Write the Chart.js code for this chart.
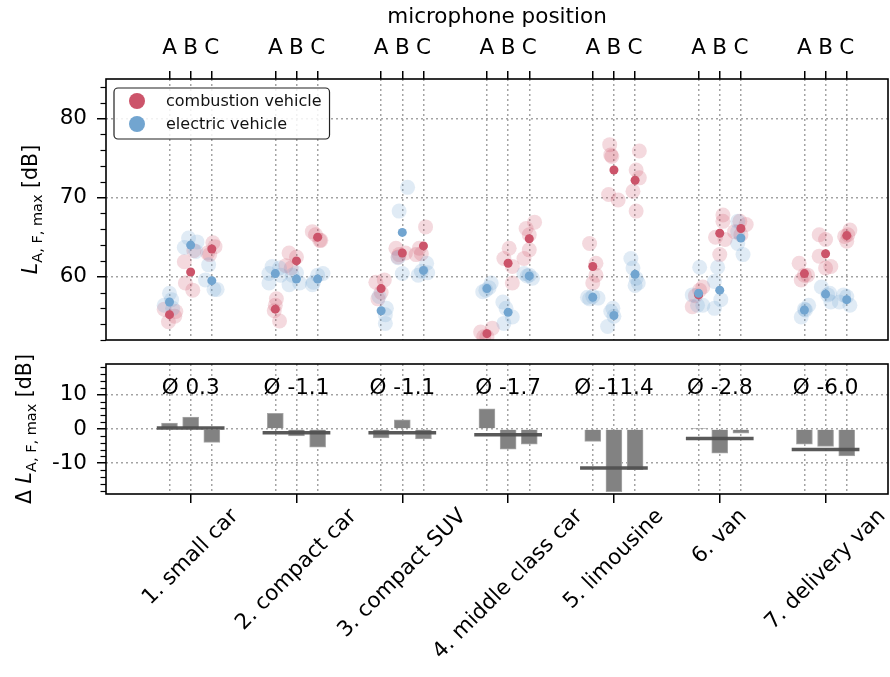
<!DOCTYPE html>
<html>
<head>
<meta charset="utf-8">
<script src="https://cdn.jsdelivr.net/npm/chart.js@4.4.0/dist/chart.umd.min.js"></script>
<style>
  body { margin: 0; background: #fff; }
  #wrap { position: relative; width: 890px; height: 677px; background: #fff; }
  #wrap canvas { position: absolute; left: 0; }
</style>
</head>
<body>
<div id="wrap">
  <canvas id="levels" width="890" height="345" style="top:0"></canvas>
  <canvas id="diffs" width="890" height="332" style="top:345px"></canvas>
</div>
<script>
const vehicles = ['1. small car', '2. compact car', '3. compact SUV', '4. middle class car',
  '5. limousine', '6. van', '7. delivery van'];
const micPositions = ['A', 'B', 'C'];
const vehicleTypes = ['combustion vehicle', 'electric vehicle'];
const levelTicks = [60, 70, 80];
const diffTicks = [-10, 0, 10];

// mean L_A,F,max per vehicle, mic A/B/C
const combustionMean = [[55.2, 60.6, 63.5], [55.9, 62.0, 65.0], [58.5, 63.0, 63.9], [52.8, 61.7, 64.8],
  [61.3, 73.5, 72.2], [57.7, 65.5, 66.1], [60.4, 62.9, 65.2]];
const electricMean = [[56.8, 64.0, 59.5], [60.4, 59.7, 59.7], [55.7, 65.6, 60.8], [58.5, 55.5, 60.1],
  [57.4, 55.1, 60.3], [57.9, 58.3, 64.9], [55.8, 57.8, 57.1]];

// single pass-bys
const combustionRuns = [
  [[55.6, 54.3, 55.0, 55.9], [61.9, 59.2, 58.3, 63.3], [64.3, 63.0, 63.8, 62.8]],
  [[57.2, 56.4, 54.4, 55.7], [63.0, 61.1, 62.5, 61.4], [65.7, 64.6, 65.3, 64.6]],
  [[59.3, 59.6, 58.0, 57.2], [63.6, 62.8, 63.0, 62.5], [66.3, 63.6, 62.8, 62.9]],
  [[53.0, 53.5, 52.4, 52.4], [63.6, 62.3, 61.3, 59.2], [66.9, 66.1, 63.4, 62.3, 65.3]],
  [[64.2, 61.7, 60.2, 59.2], [76.7, 75.4, 75.2, 70.4, 69.7], [75.9, 73.5, 72.5, 70.8, 68.3]],
  [[58.7, 56.2, 58.3, 57.6], [67.8, 65.0, 62.8, 64.7, 67.0], [66.6, 67.0, 65.7, 65.3]],
  [[61.7, 60.2, 59.6, 60.2], [65.3, 62.6, 61.3, 61.1, 64.7], [65.9, 64.5, 65.3, 65.1]]
];
const combustionJitter = [
  [[0.06, -0.01, 0.05, -0.05], [-0.06, -0.05, 0.02, 0.03], [0.01, -0.04, 0.03, -0.02]],
  [[0.01, 0.0, 0.04, -0.01], [-0.07, -0.05, 0.0, -0.1], [-0.05, 0.02, -0.02, 0.03]],
  [[-0.05, 0.03, 0.0, -0.03], [-0.06, -0.03, 0.03, -0.04], [0.02, -0.04, -0.07, -0.02]],
  [[-0.06, 0.05, 0.0, -0.03], [0.01, -0.04, 0.04, 0.04], [0.05, -0.03, 0.0, -0.05, 0.0]],
  [[-0.03, 0.03, 0.03, 0.0], [-0.04, -0.03, -0.02, -0.05, 0.04], [0.04, 0.01, 0.04, -0.02, 0.01]],
  [[0.04, -0.06, 0.01, -0.03], [0.03, -0.04, 0.0, 0.05, 0.03], [0.05, -0.01, -0.06, 0.0]],
  [[-0.05, 0.03, -0.03, 0.0], [-0.06, -0.06, 0.05, 0.0, 0.0], [0.03, 0.0, 0.01, -0.02]]
];
const electricRuns = [
  [[57.9, 56.4, 56.0, 57.1], [64.9, 64.4, 63.7, 63.2], [61.5, 59.6, 58.4, 58.4]],
  [[60.4, 60.2, 59.2, 61.1, 61.3], [60.2, 59.2, 59.0, 60.5], [60.4, 59.0, 60.2, 59.3]],
  [[57.5, 56.0, 55.2, 54.1], [71.3, 68.3, 62.4, 60.4], [61.7, 60.2, 60.5, 60.7]],
  [[58.1, 59.2, 58.3, 58.6], [56.8, 56.0, 54.1, 54.9], [60.4, 59.8, 60.2, 60.1]],
  [[57.4, 57.3, 57.5, 57.2], [53.7, 56.0, 55.6, 55.0], [62.3, 61.1, 59.2, 59.8, 58.9]],
  [[61.2, 57.7, 56.4, 56.4], [61.2, 59.4, 56.0, 57.1], [67.0, 64.2, 62.8, 65.7]],
  [[56.4, 54.9, 55.8, 55.9], [58.7, 57.9, 56.8, 57.7], [57.7, 56.4, 57.5, 56.8]]
];
const electricJitter = [
  [[0.0, -0.05, 0.03, 0.02], [-0.02, 0.06, -0.06, 0.05], [-0.03, -0.06, 0.02, 0.05]],
  [[-0.06, 0.05, -0.06, 0.04, -0.03], [-0.04, 0.03, -0.07, 0.0], [0.05, -0.05, 0.0, -0.04]],
  [[-0.02, 0.05, 0.04, 0.04], [0.05, -0.03, -0.04, 0.0], [0.03, -0.05, 0.04, -0.02]],
  [[-0.04, 0.04, -0.01, 0.02], [-0.05, -0.02, -0.04, 0.04], [-0.05, 0.03, 0.0, -0.02]],
  [[-0.05, 0.05, 0.0, -0.03], [-0.06, -0.01, -0.03, 0.0], [-0.04, -0.02, 0.03, 0.01, 0.0]],
  [[0.01, -0.06, -0.01, 0.04], [-0.02, -0.05, -0.05, 0.01], [-0.03, -0.03, 0.02, -0.03]],
  [[0.04, -0.03, 0.01, 0.0], [-0.04, 0.04, 0.05, 0.02], [-0.03, 0.03, 0.0, -0.07]]
];

// electric minus combustion, per mic, and average per vehicle
const levelDiff = [[1.7, 3.5, -3.9], [4.6, -2.0, -5.3], [-2.6, 2.7, -2.9], [5.9, -5.9, -4.4],
  [-3.6, -18.3, -11.9], [0.2, -7.1, -1.2], [-4.4, -5.1, -7.9]];
const meanDiff = [0.3, -1.1, -1.1, -1.7, -11.4, -2.8, -6.0];

const RED = 'rgb(204, 84, 106)';
const BLUE = 'rgb(114, 165, 208)';
const RED_FAINT = 'rgba(204, 84, 106, 0.22)';
const BLUE_FAINT = 'rgba(114, 165, 208, 0.22)';
const GRID = '#a3a3a3';
const FONT = 'DejaVu Sans';
const FS = 21.5;
const X_MIN = -0.8, X_MAX = 6.59, MIC_STEP = 0.2;

Chart.defaults.font.family = FONT;
Chart.defaults.color = '#000';

const micX = (i, j) => i + (j - 1) * MIC_STEP;
const micTicks = [];
vehicles.forEach((v, i) => micPositions.forEach((m, j) => micTicks.push({ value: micX(i, j) })));

function runPoints(runs, jitter) {
  const pts = [];
  runs.forEach((group, i) => group.forEach((vals, j) => vals.forEach((v, k) => {
    pts.push({ x: micX(i, j) + jitter[i][j][k], y: v });
  })));
  return pts;
}
function meanPoints(means) {
  const pts = [];
  means.forEach((group, i) => group.forEach((v, j) => pts.push({ x: micX(i, j), y: v })));
  return pts;
}

// fixed axis boxes, no extra label padding
const fixX = h => s => { s.height = h; s.paddingLeft = 0; s.paddingRight = 0; };
const fixY = s => { s.width = 106; s.paddingTop = 0; s.paddingBottom = 0; };

// box round the plot area
const framePlugin = {
  id: 'frame',
  afterDraw(chart) {
    const { ctx, chartArea: a } = chart;
    ctx.save();
    ctx.strokeStyle = '#000';
    ctx.lineWidth = 1.6;
    ctx.strokeRect(a.left, a.top, a.right - a.left, a.bottom - a.top);
    ctx.restore();
  }
};

const minorTicks = {
  id: 'minorTicks',
  afterDraw(chart, args, opts) {
    const { ctx } = chart;
    const y = chart.scales.y;
    ctx.save();
    ctx.strokeStyle = '#000';
    ctx.lineWidth = 1.2;
    for (let v = Math.ceil(y.min / opts.step) * opts.step; v <= y.max; v += opts.step) {
      if (v % 10 === 0) continue;
      const py = Math.round(y.getPixelForValue(v)) + 0.5;
      ctx.beginPath();
      ctx.moveTo(y.right - 5.5, py);
      ctx.lineTo(y.right, py);
      ctx.stroke();
    }
    ctx.restore();
  }
};

// rotated y title with subscript
const yTitle = {
  id: 'yTitle',
  afterDraw(chart, args, opts) {
    const { ctx, chartArea: a } = chart;
    const parts = opts.parts;
    ctx.save();
    ctx.translate(opts.x, (a.top + a.bottom) / 2);
    ctx.rotate(-Math.PI / 2);
    ctx.fillStyle = '#000';
    ctx.textBaseline = 'alphabetic';
    let total = 0;
    parts.forEach(p => { ctx.font = p.font; total += ctx.measureText(p.text).width; });
    let x = -total / 2;
    parts.forEach(p => {
      ctx.font = p.font;
      ctx.fillText(p.text, x, p.dy);
      x += ctx.measureText(p.text).width;
    });
    ctx.restore();
  }
};
const titleParts = (prefix) => [
  { text: prefix, font: `20.5px "${FONT}"`, dy: 0 },
  { text: 'L', font: `italic 20.5px "${FONT}"`, dy: 0 },
  { text: 'A, F, max', font: `14.5px "${FONT}"`, dy: 5 },
  { text: ' [dB]', font: `20.5px "${FONT}"`, dy: 0 }
];

const boxLegend = {
  id: 'boxLegend',
  afterDraw(chart) {
    const { ctx, chartArea: a } = chart;
    const left = a.left + 8, top = a.top + 9;
    ctx.save();
    ctx.font = `16px "${FONT}"`;
    const w = 52 + Math.max(...vehicleTypes.map(t => ctx.measureText(t).width)) + 8;
    const h = 51;
    ctx.beginPath();
    ctx.roundRect(left, top, w, h, 4);
    ctx.fillStyle = 'rgba(255,255,255,0.85)';
    ctx.fill();
    ctx.strokeStyle = '#222';
    ctx.lineWidth = 1.2;
    ctx.stroke();
    [RED, BLUE].forEach((c, k) => {
      const cy = top + 13 + k * 23;
      ctx.beginPath();
      ctx.arc(left + 23, cy, 8, 0, Math.PI * 2);
      ctx.fillStyle = c;
      ctx.fill();
      ctx.fillStyle = '#111';
      ctx.textBaseline = 'middle';
      ctx.fillText(vehicleTypes[k], left + 52, cy + 1);
    });
    ctx.restore();
  }
};

const avgLabels = {
  id: 'avgLabels',
  afterDatasetsDraw(chart) {
    const { ctx } = chart;
    const x = chart.scales.x, y = chart.scales.y;
    ctx.save();
    ctx.font = `${FS}px "${FONT}"`;
    ctx.fillStyle = '#000';
    ctx.textAlign = 'center';
    ctx.textBaseline = 'alphabetic';
    meanDiff.forEach((m, i) => {
      ctx.fillText('Ø ' + m.toFixed(1), x.getPixelForValue(i), y.getPixelForValue(10.3));
    });
    ctx.restore();
  }
};

// 45 degree category labels, box centred under the tick
const vehicleLabels = {
  id: 'vehicleLabels',
  afterDraw(chart, args, opts) {
    const { ctx } = chart;
    const x = chart.scales.x;
    const r = Math.SQRT2 / 2;
    ctx.save();
    ctx.font = `${FS}px "${FONT}"`;
    ctx.fillStyle = '#000';
    ctx.textAlign = 'center';
    ctx.textBaseline = 'middle';
    vehicles.forEach((name, i) => {
      const L = ctx.measureText(name).width;
      const half = (L + FS * 1.05) * r / 2;
      ctx.save();
      ctx.translate(x.getPixelForValue(i), x.top + opts.offset + half);
      ctx.rotate(-Math.PI / 4);
      ctx.fillText(name, 0, 0);
      ctx.restore();
    });
    ctx.restore();
  }
};

new Chart(document.getElementById('levels'), {
  type: 'scatter',
  data: {
    datasets: [
      { label: 'combustion runs', data: runPoints(combustionRuns, combustionJitter),
        backgroundColor: RED_FAINT, borderWidth: 0, pointRadius: 7.5, order: 3 },
      { label: 'electric runs', data: runPoints(electricRuns, electricJitter),
        backgroundColor: BLUE_FAINT, borderWidth: 0, pointRadius: 7.5, order: 2 },
      { label: vehicleTypes[0], data: meanPoints(combustionMean),
        backgroundColor: RED, borderWidth: 0, pointRadius: 4.5, order: 1 },
      { label: vehicleTypes[1], data: meanPoints(electricMean),
        backgroundColor: BLUE, borderWidth: 0, pointRadius: 4.5, order: 0 }
    ]
  },
  options: {
    responsive: false,
    animation: false,
    layout: { autoPadding: false, padding: { top: 1, right: 2, bottom: 5 } },
    plugins: {
      legend: { display: false },
      tooltip: { enabled: false },
      minorTicks: { step: 2 },
      yTitle: { x: 37, parts: titleParts('') }
    },
    scales: {
      x: {
        type: 'linear', position: 'top', min: X_MIN, max: X_MAX,
        afterBuildTicks: s => { s.ticks = micTicks.map(t => ({ value: t.value })); },
        afterFit: fixX(78),
        ticks: { autoSkip: false, maxRotation: 0, padding: 10, font: { size: FS },
          callback: (v, idx) => micPositions[idx % 3] },
        grid: { color: GRID, lineWidth: 1.5, tickColor: '#000', tickWidth: 1.5, tickLength: 8 },
        border: { display: false, dash: [2, 3] },
        title: { display: true, text: 'microphone position', font: { size: FS }, padding: { top: 4, bottom: 0 } }
      },
      y: {
        min: 52, max: 85,
        afterBuildTicks: s => { s.ticks = levelTicks.map(v => ({ value: v })); },
        afterFit: fixY,
        ticks: { padding: 10, font: { size: FS } },
        grid: { color: GRID, lineWidth: 1.5, tickColor: '#000', tickWidth: 1.5, tickLength: 9 },
        border: { display: false, dash: [2, 3] }
      }
    }
  },
  plugins: [framePlugin, minorTicks, yTitle, boxLegend]
});

const diffDatasets = [{
  type: 'bar',
  data: meanPoints(levelDiff),
  backgroundColor: '#828282',
  borderColor: '#a6a6a6',
  borderWidth: 1,
  barThickness: 16,
  order: 1
}];
meanDiff.forEach((m, i) => diffDatasets.push({
  type: 'line',
  data: [{ x: micX(i, 0) - 0.12, y: m }, { x: micX(i, 2) + 0.12, y: m }],
  borderColor: 'rgba(80, 80, 80, 0.95)',
  borderWidth: 3.5,
  pointRadius: 0,
  order: 0
}));

new Chart(document.getElementById('diffs'), {
  type: 'bar',
  data: { datasets: diffDatasets },
  options: {
    responsive: false,
    animation: false,
    layout: { autoPadding: false, padding: { top: 19, right: 2 } },
    plugins: {
      legend: { display: false },
      tooltip: { enabled: false },
      minorTicks: { step: 2 },
      yTitle: { x: 31, parts: titleParts('Δ ') },
      vehicleLabels: { offset: 11 }
    },
    scales: {
      x: {
        type: 'linear', min: X_MIN, max: X_MAX, offset: false,
        afterBuildTicks: s => { s.ticks = micTicks.map(t => ({ value: t.value })); },
        afterFit: fixX(183),
        ticks: { display: false, autoSkip: false },
        grid: { offset: false, color: GRID, lineWidth: 1.5, tickWidth: 1.5, tickLength: 9,
          tickColor: c => (c.index % 3 === 1 ? '#000' : 'rgba(0,0,0,0)') },
        border: { display: false, dash: [2, 3] }
      },
      y: {
        min: -19, max: 19,
        afterBuildTicks: s => { s.ticks = diffTicks.map(v => ({ value: v })); },
        afterFit: fixY,
        ticks: { padding: 10, font: { size: FS } },
        grid: { color: GRID, lineWidth: 1.5, tickColor: '#000', tickWidth: 1.5, tickLength: 9 },
        border: { display: false, dash: [2, 3] }
      }
    }
  },
  plugins: [framePlugin, minorTicks, yTitle, avgLabels, vehicleLabels]
});
</script>
</body>
</html>
